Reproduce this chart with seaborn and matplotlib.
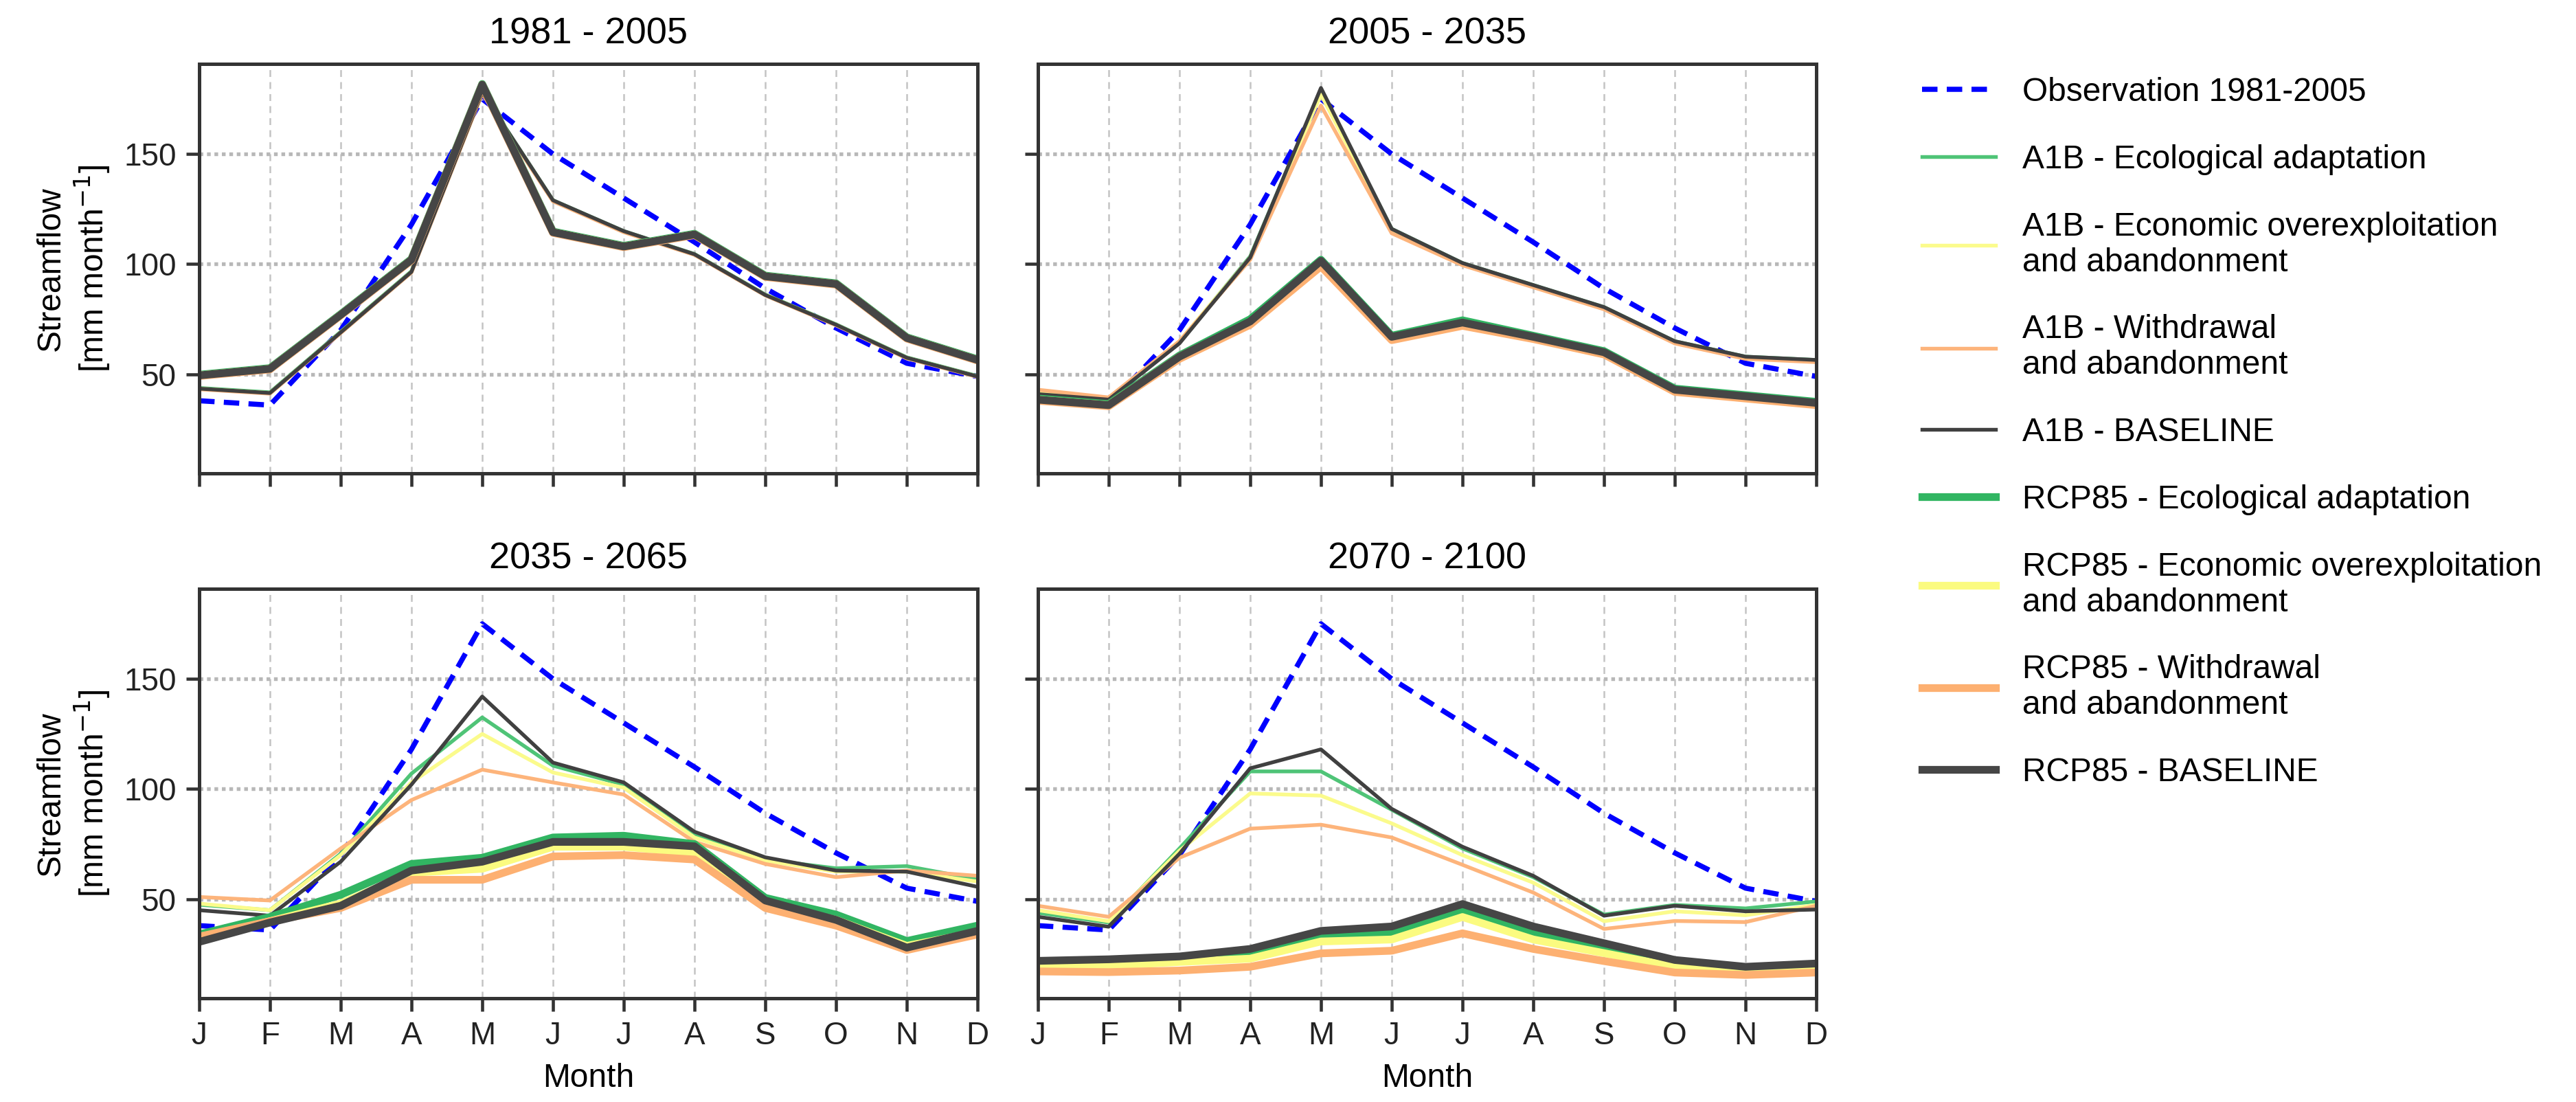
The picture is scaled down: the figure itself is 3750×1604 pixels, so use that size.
import matplotlib
matplotlib.use('Agg')
import numpy as np
import pandas as pd
import matplotlib.pyplot as plt
import seaborn as sns


months = ['J', 'F', 'M', 'A', 'M', 'J', 'J', 'A', 'S', 'O', 'N', 'D']
periods = ['1981 - 2005', '2005 - 2035', '2035 - 2065', '2070 - 2100']
land_uses = ['Ecological adaptation',
             'Economic overexploitation\nand abandonment',
             'Withdrawal\nand abandonment',
             'BASELINE']

observation = [38, 36, 70, 118, 175, 150, 130, 110, 89, 71, 55, 49]

# rows: ecological, economic, withdrawal, baseline
a1b_1981 = [
    [43.8, 41.8, 69.3, 96.8, 178, 129, 115, 104.6, 86.2, 72.7, 57.7, 49.2],
    [43.5, 41.5, 69, 96.5, 177.7, 128.8, 114.8, 104.4, 86, 72.5, 57.5, 49],
    [43.2, 41.2, 68.7, 96.2, 177.4, 128.5, 114.5, 104.2, 85.8, 72.2, 57.2, 48.8],
    [43.5, 41.5, 69, 96.5, 178, 129, 115, 104.5, 86, 72.5, 57.5, 49],
]
rcp85_1981 = [
    [49.8, 52.8, 77.3, 102.3, 181.8, 114.8, 108.3, 113.8, 94.8, 91.3, 66.8, 56.8],
    [49.5, 52.5, 77, 102, 181.5, 114.5, 108, 113.5, 94.5, 91, 66.5, 56.5],
    [49.2, 52.2, 76.7, 101.7, 181, 114.2, 107.7, 113.2, 94.2, 90.7, 66.2, 56.2],
    [49.5, 52.5, 77, 102, 181.5, 114.5, 108, 113.5, 94.5, 91, 66.5, 56.5],
]

a1b_2005 = [
    [41.5, 38.5, 64.5, 103.5, 179, 116, 100.5, 90.5, 80.5, 65, 58, 56.5],
    [42, 39, 65, 103, 177, 115, 100, 90, 80, 64.5, 57.5, 56],
    [43, 39.5, 65, 102, 172, 114, 99.5, 89.5, 79.5, 64, 57, 55.5],
    [41, 38.5, 64, 103, 180, 116, 100.5, 90.5, 80.5, 65, 58, 56.5],
]
rcp85_2005 = [
    [39, 36.5, 58.5, 75, 102, 67.5, 74.5, 67.5, 60.5, 43.5, 40.5, 37.5],
    [38.5, 36, 58, 73.5, 100.5, 66.5, 73, 66.5, 59.5, 42.5, 39.5, 36.5],
    [38, 35.5, 57, 72.5, 99, 65.5, 72, 66, 59, 42, 39, 36],
    [38.5, 36, 58, 74, 101.5, 67, 73.5, 67, 60, 43, 40, 37],
]

a1b_2035 = [
    [47.5, 45, 70.6, 107, 132.5, 110.6, 102, 79, 68, 64, 65, 59],
    [48, 45, 70, 103, 125, 107.5, 100.6, 78, 67.5, 62.5, 62.5, 58],
    [51, 49.4, 73, 95, 108.8, 103, 97.5, 76, 66, 60, 63, 60.6],
    [45, 42.5, 67, 102, 142, 112, 103, 80.6, 69, 63, 62.5, 55.6],
]
rcp85_2035 = [
    [34, 41.9, 52, 66, 68.8, 78, 78.8, 75, 50.6, 43, 31, 38],
    [31.9, 40, 48, 62, 63.8, 73.8, 73.8, 71, 48, 40.6, 28.8, 35],
    [33, 40, 46, 58.8, 58.8, 69.4, 70, 68, 46, 38, 26.9, 34],
    [30.6, 39.4, 47, 63, 67, 76, 76, 74, 49.4, 40.6, 28, 35.6],
]

a1b_2070 = [
    [43.8, 39.4, 73, 108, 108, 90.6, 73, 60, 43, 47.4, 45.8, 49],
    [45, 40, 72, 98, 97, 84.4, 70, 57.5, 40, 44.5, 42.7, 47.4],
    [47, 42, 68.8, 82, 83.8, 78, 65.6, 53, 36.5, 40.1, 39.6, 47],
    [42, 37.5, 70.6, 109.4, 118, 91, 73.8, 60.6, 42.5, 47, 44.5, 45.3],
]
rcp85_2070 = [
    [21.5, 22, 23, 25.7, 33.4, 35, 45.2, 35, 28, 21, 18.5, 20],
    [19.8, 19.8, 21.5, 23, 30.8, 31.7, 41.9, 31.7, 25.5, 19.3, 17.2, 18.5],
    [17.2, 16.9, 17.6, 19.3, 25.4, 26.6, 34.5, 27.4, 21.9, 16.7, 15.6, 16.7],
    [22, 22.7, 24, 27.4, 35.6, 37.6, 47.8, 37.6, 30, 22.4, 19.3, 20.8],
]

panel_data = [(a1b_1981, rcp85_1981), (a1b_2005, rcp85_2005),
              (a1b_2035, rcp85_2035), (a1b_2070, rcp85_2070)]

colors = ['#4fc477', '#fbfb8c', '#fdb47b', '#404040']
rcp_colors = ['#31b562', '#fbfb80', '#fdb071', '#464646']

plt.rcParams['font.family'] = ['Liberation Sans', 'DejaVu Sans']

fig = plt.figure(figsize=(12.5, 5.3467), dpi=300)

lefts = [0.0773, 0.4029]
bottoms = [0.5704, 0.0941]
w, h = 0.3022, 0.3718

x = np.arange(12)
axes = []
for i, period in enumerate(periods):
    row, col = divmod(i, 2)
    ax = fig.add_axes([lefts[col], bottoms[row], w, h])
    axes.append(ax)
    a1b, rcp = panel_data[i]

    sns.lineplot(x=x, y=observation, ax=ax, color='#0000ff', lw=1.8,
                 linestyle=(0, (3, 1.8)), label='Observation 1981-2005')
    for k, lu in enumerate(land_uses):
        sns.lineplot(x=x, y=a1b[k], ax=ax, color=colors[k], lw=1.3,
                     label='A1B - ' + lu)
    for k, lu in enumerate(land_uses):
        sns.lineplot(x=x, y=rcp[k], ax=ax, color=rcp_colors[k], lw=2.7,
                     label='RCP85 - ' + lu)
    if ax.get_legend() is not None:
        ax.get_legend().remove()

    ax.set_xlim(0, 11)
    ax.set_ylim(5, 191)
    ax.set_xticks(x)
    ax.set_yticks([50, 100, 150])
    ax.set_axisbelow(True)
    ax.yaxis.grid(True, linestyle=(0, (1, 1)), lw=1.3, color='#b8b8b8')
    ax.xaxis.grid(True, linestyle=(0, (4, 3)), lw=0.6, color='#c4c4c4')
    for s in ax.spines.values():
        s.set_color('#333333')
        s.set_linewidth(1.2)
    ax.tick_params(direction='out', length=4.5, width=1.1, color='#333333',
                   labelsize=11, labelcolor='#222222')
    ax.set_title(period, fontsize=13, pad=7)

    if row == 1:
        ax.set_xticklabels(months)
        ax.set_xlabel('Month', fontsize=11.5)
    else:
        ax.set_xticklabels([])
        ax.set_xlabel('')
    if col == 0:
        ax.set_ylabel('Streamflow\n[mm month$^{-1}$]', fontsize=11.5)
    else:
        ax.set_yticklabels([])
        ax.set_ylabel('')

handles, labels = axes[0].get_legend_handles_labels()
fig.legend(handles, labels, loc='upper left', bbox_to_anchor=(0.746, 0.93),
           frameon=False, fontsize=11.5, handlelength=2.25, handletextpad=0.8,
           labelspacing=1.1, borderaxespad=0, borderpad=0)

fig.savefig('out.png', dpi=300)
